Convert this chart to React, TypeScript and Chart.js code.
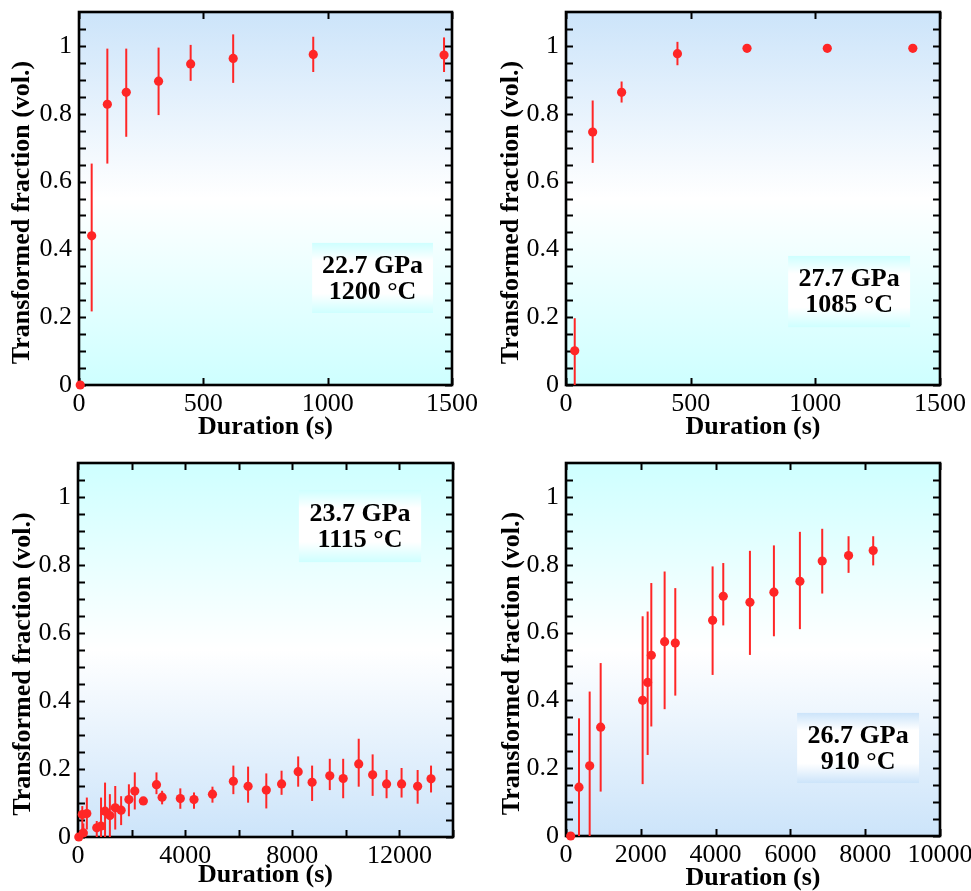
import React, { useEffect, useRef } from 'react';
import { Chart, registerables } from 'chart.js';
Chart.register(...registerables);

const RED = '#ff2626';
const SERIF = '"Liberation Serif", "Times New Roman", Times, serif';
const BLUE = 'rgb(204,228,250)';
const CYAN = 'rgb(206,255,255)';

// ---- Panel A: 22.7 GPa, 1200 °C ----
const timeA = [5, 51, 114, 190, 320, 449, 620, 942, 1468];
const fracA = [0, 0.44, 0.828, 0.863, 0.896, 0.947, 0.963, 0.975, 0.973];
const loA = [null, 0.217, 0.653, 0.732, 0.796, 0.897, 0.891, 0.923, 0.923];
const hiA = [null, 0.653, 0.992, 0.992, 0.995, 1.003, 1.034, 1.027, 1.025];
const labelA = ['22.7 GPa', '1200 °C'];

// ---- Panel B: 27.7 GPa, 1085 °C ----
const timeB = [35, 107, 223, 447, 726, 1048, 1391];
const fracB = [0.101, 0.746, 0.863, 0.977, 0.993, 0.993, 0.993];
const loB = [0, 0.655, 0.833, 0.943, null, null, null];
const hiB = [0.197, 0.839, 0.895, 1.012, null, null, null];
const labelB = ['27.7 GPa', '1085 °C'];

// ---- Panel C: 23.7 GPa, 1115 °C ----
const timeC = [30, 160, 200, 330, 700, 860, 1010, 1190, 1390, 1610, 1900, 2120, 2440, 2930, 3140, 3820, 4330, 5020, 5800, 6350, 7030, 7600, 8220, 8740, 9400, 9900, 10480, 11000, 11520, 12080, 12680, 13180];
const fracC = [0, 0.066, 0.012, 0.069, 0.027, 0.032, 0.076, 0.063, 0.086, 0.079, 0.11, 0.135, 0.106, 0.154, 0.117, 0.113, 0.11, 0.126, 0.164, 0.149, 0.138, 0.156, 0.192, 0.161, 0.18, 0.172, 0.215, 0.183, 0.156, 0.156, 0.149, 0.171];
const loC = [null, 0, 0, 0.022, 0, 0, 0, 0, 0.022, 0.035, 0.061, 0.081, null, 0.126, 0.096, 0.083, 0.083, 0.101, 0.126, 0.101, 0.084, 0.124, 0.148, 0.106, 0.138, 0.114, 0.148, 0.121, 0.114, 0.116, 0.098, 0.131];
const hiC = [null, 0.091, 0.04, 0.116, 0.047, 0.116, 0.16, 0.126, 0.15, 0.12, 0.155, 0.19, null, 0.19, 0.136, 0.143, 0.131, 0.148, 0.21, 0.207, 0.187, 0.195, 0.237, 0.21, 0.23, 0.23, 0.289, 0.243, 0.197, 0.203, 0.197, 0.21];
const labelC = ['23.7 GPa', '1115 °C'];

// ---- Panel D: 26.7 GPa, 910 °C ----
const timeD = [125, 347, 633, 927, 2049, 2183, 2281, 2637, 2922, 3920, 4205, 4918, 5559, 6254, 6851, 7555, 8214];
const fracD = [0, 0.144, 0.207, 0.321, 0.4, 0.453, 0.533, 0.573, 0.569, 0.636, 0.707, 0.689, 0.719, 0.751, 0.811, 0.827, 0.842];
const loD = [null, 0, 0, 0.131, 0.153, 0.239, 0.323, 0.374, 0.414, 0.475, 0.621, 0.534, 0.589, 0.61, 0.715, 0.776, 0.798];
const hiD = [null, 0.347, 0.426, 0.51, 0.648, 0.662, 0.746, 0.78, 0.731, 0.795, 0.805, 0.841, 0.857, 0.897, 0.906, 0.884, 0.884];
const labelD = ['26.7 GPa', '910 °C'];

// ---- Axes ----
const Y_TICKS = [0, 0.05, 0.1, 0.15, 0.2, 0.25, 0.3, 0.35, 0.4, 0.45, 0.5, 0.55, 0.6, 0.65, 0.7, 0.75, 0.8, 0.85, 0.9, 0.95, 1, 1.05];
const Y_LABEL_VALUES = [0, 0.2, 0.4, 0.6, 0.8, 1];
const Y_LABELS = ['0', '0.2', '0.4', '0.6', '0.8', '1'];
const X_TICKS_AB = [0, 500, 1000, 1500];
const X_LABELS_AB = ['0', '500', '1000', '1500'];
const X_TICKS_C = [0, 2000, 4000, 6000, 8000, 10000, 12000, 14000];
const X_LABELS_C = ['0', '', '4000', '', '8000', '', '12000', ''];
const X_TICKS_D = [0, 2000, 4000, 6000, 8000, 10000];
const X_LABELS_D = ['0', '2000', '4000', '6000', '8000', '10000'];
const X_TITLE = 'Duration (s)';
const Y_TITLE = 'Transformed fraction (vol.)';

type Panel = {
  time: number[]; frac: number[]; lo: (number | null)[]; hi: (number | null)[]; label: string[];
  xMax: number; xTicks: number[]; xLabels: string[];
  bgTop: string; bgBottom: string; boxEdge: string;
  box: { l: number; r: number; t: number; b: number };
  canvas: { left: number; top: number; w: number; h: number };
  yAxisW: number; padRight: number; padTop: number; xAxisH: number;
  yTitleX: number; xTitlePad: number;
};

const PANELS: Panel[] = [
  {
    time: timeA, frac: fracA, lo: loA, hi: hiA, label: labelA,
    xMax: 1500, xTicks: X_TICKS_AB, xLabels: X_LABELS_AB,
    bgTop: BLUE, bgBottom: CYAN, boxEdge: CYAN,
    box: { l: 0.625, r: 0.949, t: 0.619, b: 0.807 },
    canvas: { left: 0, top: 0, w: 480, h: 445 },
    yAxisW: 79, padRight: 28, padTop: 12, xAxisH: 60, yTitleX: 22, xTitlePad: 5,
  },
  {
    time: timeB, frac: fracB, lo: loB, hi: hiB, label: labelB,
    xMax: 1500, xTicks: X_TICKS_AB, xLabels: X_LABELS_AB,
    bgTop: BLUE, bgBottom: CYAN, boxEdge: CYAN,
    box: { l: 0.594, r: 0.92, t: 0.654, b: 0.845 },
    canvas: { left: 480, top: 0, w: 491, h: 445 },
    yAxisW: 86, padRight: 31, padTop: 12, xAxisH: 60, yTitleX: 31, xTitlePad: 5,
  },
  {
    time: timeC, frac: fracC, lo: loC, hi: hiC, label: labelC,
    xMax: 14000, xTicks: X_TICKS_C, xLabels: X_LABELS_C,
    bgTop: CYAN, bgBottom: BLUE, boxEdge: CYAN,
    box: { l: 0.589, r: 0.915, t: 0.072, b: 0.265 },
    canvas: { left: 0, top: 445, w: 480, h: 446 },
    yAxisW: 78, padRight: 27, padTop: 18, xAxisH: 54, yTitleX: 23, xTitlePad: 3,
  },
  {
    time: timeD, frac: fracD, lo: loD, hi: hiD, label: labelD,
    xMax: 10000, xTicks: X_TICKS_D, xLabels: X_LABELS_D,
    bgTop: CYAN, bgBottom: BLUE, boxEdge: BLUE,
    box: { l: 0.618, r: 0.944, t: 0.67, b: 0.858 },
    canvas: { left: 480, top: 445, w: 491, h: 446 },
    yAxisW: 86, padRight: 31, padTop: 18, xAxisH: 55, yTitleX: 32, xTitlePad: 0,
  },
];

function yLabel(v: number): string {
  const i = Y_LABEL_VALUES.findIndex((x) => Math.abs(x - v) < 1e-6);
  return i >= 0 ? Y_LABELS[i] : '';
}

function makeChart(canvas: HTMLCanvasElement, p: Panel): Chart {
  const panelPlugin = {
    id: 'panelDeco',
    beforeDraw(chart: any) {
      const { ctx, chartArea: a } = chart;
      const g = ctx.createLinearGradient(0, a.top, 0, a.bottom);
      g.addColorStop(0, p.bgTop);
      g.addColorStop(0.5, '#ffffff');
      g.addColorStop(1, p.bgBottom);
      ctx.save();
      ctx.fillStyle = g;
      ctx.fillRect(a.left, a.top, a.right - a.left, a.bottom - a.top);
      ctx.restore();
    },
    beforeDatasetsDraw(chart: any) {
      const { ctx, chartArea: a, scales } = chart;
      const w = a.right - a.left;
      const h = a.bottom - a.top;
      ctx.save();
      // y-axis title (rotated)
      ctx.fillStyle = '#000';
      ctx.font = `bold 26px ${SERIF}`;
      ctx.textAlign = 'center';
      ctx.textBaseline = 'middle';
      ctx.save();
      ctx.translate(p.yTitleX, (a.top + a.bottom) / 2 + 14);
      ctx.rotate(-Math.PI / 2);
      ctx.fillText(Y_TITLE, 0, 0);
      ctx.restore();
      // label box
      const bl = a.left + p.box.l * w;
      const br = a.left + p.box.r * w;
      const bt = a.top + p.box.t * h;
      const bb = a.top + p.box.b * h;
      const g = ctx.createLinearGradient(0, bt, 0, bb);
      g.addColorStop(0, p.boxEdge);
      g.addColorStop(0.25, '#ffffff');
      g.addColorStop(0.72, '#ffffff');
      g.addColorStop(1, p.boxEdge);
      ctx.fillStyle = g;
      ctx.fillRect(bl, bt, br - bl, bb - bt);
      ctx.fillStyle = '#000';
      const cx = (bl + br) / 2;
      const cy = (bt + bb) / 2;
      ctx.fillText(p.label[0], cx, cy - 12);
      ctx.fillText(p.label[1], cx, cy + 14);
      // frame and inner ticks
      ctx.strokeStyle = '#000';
      ctx.lineWidth = 2;
      const TL = 7;
      ctx.beginPath();
      Y_TICKS.forEach((v) => {
        const y = Math.round(scales.y.getPixelForValue(v)) + 0.5;
        ctx.moveTo(a.left, y);
        ctx.lineTo(a.left + TL, y);
        ctx.moveTo(a.right, y);
        ctx.lineTo(a.right - TL, y);
      });
      p.xTicks.forEach((v) => {
        const x = Math.round(scales.x.getPixelForValue(v)) + 0.5;
        ctx.moveTo(x, a.bottom);
        ctx.lineTo(x, a.bottom - TL);
        ctx.moveTo(x, a.top);
        ctx.lineTo(x, a.top + TL);
      });
      ctx.stroke();
      ctx.lineWidth = 2.6;
      ctx.strokeRect(a.left, a.top, a.right - a.left, a.bottom - a.top);
      // error bars
      ctx.strokeStyle = RED;
      ctx.lineWidth = 2;
      p.time.forEach((t, i) => {
        const lo = p.lo[i];
        const hi = p.hi[i];
        if (lo == null || hi == null) return;
        const x = scales.x.getPixelForValue(t);
        ctx.beginPath();
        ctx.moveTo(x, scales.y.getPixelForValue(lo));
        ctx.lineTo(x, scales.y.getPixelForValue(hi));
        ctx.stroke();
      });
      ctx.restore();
    },
  };

  return new Chart(canvas, {
    type: 'scatter',
    data: {
      datasets: [
        {
          data: p.time.map((t, i) => ({ x: t, y: p.frac[i] })),
          backgroundColor: RED,
          borderColor: RED,
          borderWidth: 0,
          pointRadius: 4.6,
          clip: false as any,
        },
      ],
    },
    options: {
      animation: false,
      responsive: false,
      maintainAspectRatio: false,
      devicePixelRatio: 1,
      layout: { padding: { left: 0, top: p.padTop, right: p.padRight, bottom: 0 } },
      plugins: { legend: { display: false }, tooltip: { enabled: false } },
      scales: {
        x: {
          type: 'linear',
          min: 0,
          max: p.xMax,
          afterBuildTicks: (s: any) => {
            s.ticks = p.xTicks.map((v) => ({ value: v }));
          },
          afterFit: (s: any) => {
            s.height = p.xAxisH;
            s.paddingLeft = 0;
            s.paddingRight = 0;
          },
          grid: { display: false, drawTicks: false },
          border: { display: false },
          ticks: {
            autoSkip: false,
            maxRotation: 0,
            minRotation: 0,
            padding: 4,
            color: '#000',
            font: { family: SERIF, size: 26 },
            callback: (v: any) => {
              const i = p.xTicks.indexOf(Number(v));
              return i >= 0 ? p.xLabels[i] : '';
            },
          },
          title: {
            display: true,
            text: X_TITLE,
            color: '#000',
            font: { family: SERIF, size: 26, weight: 'bold', lineHeight: 1 },
            padding: { top: 0, bottom: p.xTitlePad },
          },
        },
        y: {
          type: 'linear',
          min: 0,
          max: 1.1,
          afterBuildTicks: (s: any) => {
            s.ticks = Y_TICKS.map((v) => ({ value: v }));
          },
          afterFit: (s: any) => {
            s.width = p.yAxisW;
            s.paddingTop = 0;
            s.paddingBottom = 0;
          },
          grid: { display: false, drawTicks: false },
          border: { display: false },
          ticks: {
            autoSkip: false,
            padding: 7,
            color: '#000',
            font: { family: SERIF, size: 26 },
            callback: (v: any) => yLabel(Number(v)),
          },
          title: { display: false },
        },
      },
    } as any,
    plugins: [panelPlugin],
  });
}

function PanelChart({ p }: { p: Panel }) {
  const ref = useRef<HTMLCanvasElement | null>(null);
  useEffect(() => {
    if (!ref.current) return;
    const chart = makeChart(ref.current, p);
    return () => chart.destroy();
  }, [p]);
  return (
    <canvas
      ref={ref}
      width={p.canvas.w}
      height={p.canvas.h}
      style={{
        position: 'absolute',
        left: p.canvas.left,
        top: p.canvas.top,
        width: p.canvas.w,
        height: p.canvas.h,
      }}
    />
  );
}

export default function App() {
  useEffect(() => {
    document.body.style.margin = '0';
    document.body.style.background = '#fff';
  }, []);
  return (
    <div style={{ position: 'absolute', left: 0, top: 0, width: 971, height: 891, background: '#fff', overflow: 'hidden' }}>
      {PANELS.map((p, i) => (
        <PanelChart key={i} p={p} />
      ))}
    </div>
  );
}
